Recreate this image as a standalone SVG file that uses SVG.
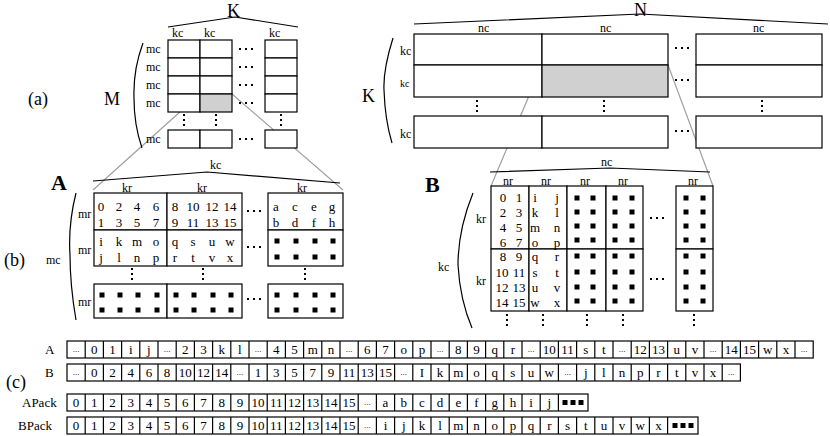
<svg xmlns="http://www.w3.org/2000/svg" width="830" height="436" viewBox="0 0 830 436" font-family="'Liberation Serif', 'DejaVu Serif', serif">
<style>
text{font-family:'Liberation Serif','DejaVu Serif',serif;fill:#000}
.s{font-size:12px}.m{font-size:13px;text-anchor:middle}.L{font-size:18px}.b{font-size:22px;font-weight:bold}
.c{fill:#fff;stroke:#000;stroke-width:1.2}
.g{fill:#d0d0d0;stroke:#000;stroke-width:1.2}
.ln{fill:none;stroke:#000;stroke-width:1.2}
.gl{fill:none;stroke:#a0a0a0;stroke-width:1.2}
.hd{stroke:#000;stroke-width:2;stroke-dasharray:2 4}
.vd{stroke:#000;stroke-width:2;stroke-dasharray:2 3}
.e{font-size:9px;text-anchor:middle}
</style>
<defs><rect id="q" x="-2.5" y="-2.5" width="5" height="5" fill="#000"/></defs>

<g id="connectors">
<path class="gl" d="M200 94L93 190M232 94L343 190M542 65L491 186M668 65L713 186"/>
</g>

<g id="panel-a-left">
<text x="28" y="105" class="L">(a)</text>
<text x="104" y="105" class="L">M</text>
<text x="227" y="17" class="L">K</text>
<path class="ln" d="M168 27L235 17L298 27M143 43Q133 70 134 98Q134 125 142 148"/>
<text x="172" y="37" class="s">kc</text><text x="204" y="37" class="s">kc</text><text x="269" y="37" class="s">kc</text>
<g class="s"><text x="146" y="53">mc</text><text x="146" y="71">mc</text><text x="146" y="89">mc</text><text x="146" y="107">mc</text><text x="146" y="143">mc</text></g>
<rect class="c" x="168" y="40" width="32" height="18"/><rect class="c" x="200" y="40" width="32" height="18"/><rect class="c" x="265" y="40" width="32" height="18"/>
<rect class="c" x="168" y="58" width="32" height="18"/><rect class="c" x="200" y="58" width="32" height="18"/><rect class="c" x="265" y="58" width="32" height="18"/>
<rect class="c" x="168" y="76" width="32" height="18"/><rect class="c" x="200" y="76" width="32" height="18"/><rect class="c" x="265" y="76" width="32" height="18"/>
<rect class="c" x="168" y="94" width="32" height="18"/><rect class="g" x="200" y="94" width="32" height="18"/><rect class="c" x="265" y="94" width="32" height="18"/>
<rect class="c" x="168" y="130" width="32" height="18"/><rect class="c" x="200" y="130" width="32" height="18"/><rect class="c" x="265" y="130" width="32" height="18"/>
<path class="hd" d="M239 49h18M239 67h18M239 85h18M239 103h18M239 139h18"/>
<path class="vd" d="M184 114v14M216 114v14M281 114v14"/>
</g>

<g id="panel-a-right">
<text x="362" y="102" class="L">K</text>
<text x="634" y="16" class="L">N</text>
<path class="ln" d="M414 24L640 14L828 24M393 38Q383 70 384 90Q385 120 392 143"/>
<text x="478" y="32" class="s">nc</text><text x="600" y="32" class="s">nc</text><text x="753" y="32" class="s">nc</text>
<text x="400" y="55" class="s">kc</text><text x="400" y="87" style="font-size:10px">kc</text><text x="400" y="138" class="s">kc</text>
<rect class="c" x="414" y="34" width="128" height="31"/><rect class="c" x="542" y="34" width="126" height="31"/><rect class="c" x="696" y="34" width="126" height="31"/>
<rect class="c" x="414" y="65" width="128" height="32"/><rect class="g" x="542" y="65" width="126" height="32"/><rect class="c" x="696" y="65" width="126" height="32"/>
<rect class="c" x="414" y="116" width="128" height="32"/><rect class="c" x="542" y="116" width="126" height="32"/><rect class="c" x="696" y="116" width="126" height="32"/>
<path class="hd" d="M675 48h18M675 80h18M675 131h18"/>
<path class="vd" d="M477 100v14M604 100v14M762 100v14"/>
</g>

<g id="matrix-A">
<text x="51" y="190" class="b">A</text>
<text x="4" y="266" class="L">(b)</text>
<text x="210" y="169" class="s">kc</text>
<path class="ln" d="M93 181L207 172L340 183M76 193Q68 225 70 255Q70 285 76 320"/>
<text x="122" y="192" class="s">kr</text><text x="197" y="192" class="s">kr</text><text x="297" y="192" class="s">kr</text>
<text x="46" y="264" class="s">mc</text>
<g class="s"><text x="78" y="218">mr</text><text x="78" y="254">mr</text><text x="78" y="306">mr</text></g>
<rect class="c" x="94" y="193" width="73" height="37"/><rect class="c" x="167" y="193" width="75" height="37"/><rect class="c" x="268" y="193" width="75" height="37"/>
<rect class="c" x="94" y="230" width="73" height="36"/><rect class="c" x="167" y="230" width="75" height="36"/><rect class="c" x="268" y="230" width="75" height="36"/>
<rect class="c" x="94" y="284" width="73" height="34"/><rect class="c" x="167" y="284" width="75" height="34"/><rect class="c" x="268" y="284" width="75" height="34"/>
<g class="m">
<text x="101" y="211">0</text><text x="119" y="211">2</text><text x="137" y="211">4</text><text x="156" y="211">6</text>
<text x="101" y="227">1</text><text x="119" y="227">3</text><text x="137" y="227">5</text><text x="156" y="227">7</text>
<text x="175" y="211">8</text><text x="193" y="211">10</text><text x="212" y="211">12</text><text x="230" y="211">14</text>
<text x="175" y="227">9</text><text x="193" y="227">11</text><text x="212" y="227">13</text><text x="230" y="227">15</text>
<text x="276" y="211">a</text><text x="295" y="211">c</text><text x="314" y="211">e</text><text x="332" y="211">g</text>
<text x="276" y="227">b</text><text x="295" y="227">d</text><text x="314" y="227">f</text><text x="332" y="227">h</text>
<text x="101" y="246">i</text><text x="119" y="246">k</text><text x="137" y="246">m</text><text x="156" y="246">o</text>
<text x="101" y="262">j</text><text x="119" y="262">l</text><text x="137" y="262">n</text><text x="156" y="262">p</text>
<text x="175" y="246">q</text><text x="193" y="246">s</text><text x="212" y="246">u</text><text x="230" y="246">w</text>
<text x="175" y="262">r</text><text x="193" y="262">t</text><text x="212" y="262">v</text><text x="230" y="262">x</text>
</g>
<g>
<use href="#q" x="277" y="241"/><use href="#q" x="296" y="241"/><use href="#q" x="315" y="241"/><use href="#q" x="333" y="241"/>
<use href="#q" x="277" y="257"/><use href="#q" x="296" y="257"/><use href="#q" x="315" y="257"/><use href="#q" x="333" y="257"/>
<use href="#q" x="102" y="295"/><use href="#q" x="120" y="295"/><use href="#q" x="138" y="295"/><use href="#q" x="157" y="295"/>
<use href="#q" x="102" y="310"/><use href="#q" x="120" y="310"/><use href="#q" x="138" y="310"/><use href="#q" x="157" y="310"/>
<use href="#q" x="176" y="295"/><use href="#q" x="194" y="295"/><use href="#q" x="213" y="295"/><use href="#q" x="231" y="295"/>
<use href="#q" x="176" y="310"/><use href="#q" x="194" y="310"/><use href="#q" x="213" y="310"/><use href="#q" x="231" y="310"/>
<use href="#q" x="277" y="295"/><use href="#q" x="296" y="295"/><use href="#q" x="315" y="295"/><use href="#q" x="333" y="295"/>
<use href="#q" x="277" y="310"/><use href="#q" x="296" y="310"/><use href="#q" x="315" y="310"/><use href="#q" x="333" y="310"/>
</g>
<path class="hd" d="M247 211h17M247 247h17M247 299h17"/>
<path class="vd" d="M132 268v14M203 268v14M305 268v14"/>
</g>

<g id="matrix-B">
<text x="425" y="192" class="b">B</text>
<text x="601" y="166" class="s">nc</text>
<path class="ln" d="M490 172L610 168L710 172M473 193Q458 230 458 265Q460 300 472 328"/>
<text x="503" y="185" class="s">nr</text><text x="541" y="185" class="s">nr</text><text x="580" y="185" class="s">nr</text><text x="618" y="185" class="s">nr</text><text x="688" y="185" class="s">nr</text>
<text x="476" y="223" class="s">kr</text><text x="476" y="285" class="s">kr</text><text x="438" y="271" class="s">kc</text>
<rect class="c" x="491" y="186" width="38" height="63"/><rect class="c" x="529" y="186" width="38" height="63"/><rect class="c" x="567" y="186" width="39" height="63"/><rect class="c" x="606" y="186" width="37" height="63"/><rect class="c" x="676" y="186" width="37" height="63"/>
<rect class="c" x="491" y="249" width="38" height="62"/><rect class="c" x="529" y="249" width="38" height="62"/><rect class="c" x="567" y="249" width="39" height="62"/><rect class="c" x="606" y="249" width="37" height="62"/><rect class="c" x="676" y="249" width="37" height="62"/>
<g class="m">
<text x="503" y="202">0</text><text x="519" y="202">1</text><text x="503" y="217">2</text><text x="519" y="217">3</text><text x="503" y="232">4</text><text x="519" y="232">5</text><text x="503" y="247">6</text><text x="519" y="247">7</text>
<text x="535" y="202">i</text><text x="557" y="202">j</text><text x="535" y="217">k</text><text x="557" y="217">l</text><text x="535" y="232">m</text><text x="557" y="232">n</text><text x="535" y="247">o</text><text x="557" y="247">p</text>
<text x="503" y="261">8</text><text x="519" y="261">9</text><text x="502" y="277">10</text><text x="519" y="277">11</text><text x="502" y="292">12</text><text x="519" y="292">13</text><text x="502" y="307">14</text><text x="519" y="307">15</text>
<text x="535" y="261">q</text><text x="557" y="261">r</text><text x="535" y="277">s</text><text x="557" y="277">t</text><text x="535" y="292">u</text><text x="557" y="292">v</text><text x="535" y="307">w</text><text x="557" y="307">x</text>
</g>
<g>
<use href="#q" x="577" y="198"/><use href="#q" x="593" y="198"/><use href="#q" x="615" y="198"/><use href="#q" x="632" y="198"/><use href="#q" x="686" y="198"/><use href="#q" x="703" y="198"/>
<use href="#q" x="577" y="212"/><use href="#q" x="593" y="212"/><use href="#q" x="615" y="212"/><use href="#q" x="632" y="212"/><use href="#q" x="686" y="212"/><use href="#q" x="703" y="212"/>
<use href="#q" x="577" y="226"/><use href="#q" x="593" y="226"/><use href="#q" x="615" y="226"/><use href="#q" x="632" y="226"/><use href="#q" x="686" y="226"/><use href="#q" x="703" y="226"/>
<use href="#q" x="577" y="240"/><use href="#q" x="593" y="240"/><use href="#q" x="615" y="240"/><use href="#q" x="632" y="240"/><use href="#q" x="686" y="240"/><use href="#q" x="703" y="240"/>
<use href="#q" x="577" y="256"/><use href="#q" x="593" y="256"/><use href="#q" x="615" y="256"/><use href="#q" x="632" y="256"/><use href="#q" x="686" y="256"/><use href="#q" x="703" y="256"/>
<use href="#q" x="577" y="272"/><use href="#q" x="593" y="272"/><use href="#q" x="615" y="272"/><use href="#q" x="632" y="272"/><use href="#q" x="686" y="272"/><use href="#q" x="703" y="272"/>
<use href="#q" x="577" y="287"/><use href="#q" x="593" y="287"/><use href="#q" x="615" y="287"/><use href="#q" x="632" y="287"/><use href="#q" x="686" y="287"/><use href="#q" x="703" y="287"/>
<use href="#q" x="577" y="301"/><use href="#q" x="593" y="301"/><use href="#q" x="615" y="301"/><use href="#q" x="632" y="301"/><use href="#q" x="686" y="301"/><use href="#q" x="703" y="301"/>
</g>
<path class="hd" d="M650 218h18M650 279h18"/>
<path class="vd" d="M507 314v15M543 314v15M587 314v15M623 314v15M694 314v15"/>
</g>

<g id="arrays">
<text x="6" y="388" class="L">(c)</text>
<g style="font-size:13px"><text x="45" y="354">A</text><text x="45" y="377">B</text><text x="22" y="407">APack</text><text x="18" y="430">BPack</text></g>
<rect class="c" x="67" y="341" width="746.2" height="17"/>
<path class="ln" d="M85.2 341v17M103.4 341v17M121.6 341v17M139.8 341v17M158 341v17M176.2 341v17M194.4 341v17M212.6 341v17M230.8 341v17M249 341v17M267.2 341v17M285.4 341v17M303.6 341v17M321.8 341v17M340 341v17M358.2 341v17M376.4 341v17M394.6 341v17M412.8 341v17M431 341v17M449.2 341v17M467.4 341v17M485.6 341v17M503.8 341v17M522 341v17M540.2 341v17M558.4 341v17M576.6 341v17M594.8 341v17M613 341v17M631.2 341v17M649.4 341v17M667.6 341v17M685.8 341v17M704 341v17M722.2 341v17M740.4 341v17M758.6 341v17M776.8 341v17M795 341v17"/>
<g class="m">
<text x="94.3" y="354">0</text><text x="112.5" y="354">1</text><text x="130.7" y="354">i</text><text x="148.9" y="354">j</text>
<text x="185.3" y="354">2</text><text x="203.5" y="354">3</text><text x="221.7" y="354">k</text><text x="239.9" y="354">l</text>
<text x="276.3" y="354">4</text><text x="294.5" y="354">5</text><text x="312.7" y="354">m</text><text x="330.9" y="354">n</text>
<text x="367.3" y="354">6</text><text x="385.5" y="354">7</text><text x="403.7" y="354">o</text><text x="421.9" y="354">p</text>
<text x="458.3" y="354">8</text><text x="476.5" y="354">9</text><text x="494.7" y="354">q</text><text x="512.9" y="354">r</text>
<text x="549.3" y="354">10</text><text x="567.5" y="354">11</text><text x="585.7" y="354">s</text><text x="603.9" y="354">t</text>
<text x="640.3" y="354">12</text><text x="658.5" y="354">13</text><text x="676.7" y="354">u</text><text x="694.9" y="354">v</text>
<text x="731.3" y="354">14</text><text x="749.5" y="354">15</text><text x="767.7" y="354">w</text><text x="785.9" y="354">x</text>
</g>
<g class="e"><text x="76.1" y="352">...</text><text x="167.1" y="352">...</text><text x="258.1" y="352">...</text><text x="349.1" y="352">...</text><text x="440.1" y="352">...</text><text x="531.1" y="352">...</text><text x="622.1" y="352">...</text><text x="713.1" y="352">...</text><text x="804.1" y="352">...</text></g>

<rect class="c" x="67" y="364" width="673.4" height="17"/>
<path class="ln" d="M85.2 364v17M103.4 364v17M121.6 364v17M139.8 364v17M158 364v17M176.2 364v17M194.4 364v17M212.6 364v17M230.8 364v17M249 364v17M267.2 364v17M285.4 364v17M303.6 364v17M321.8 364v17M340 364v17M358.2 364v17M376.4 364v17M394.6 364v17M412.8 364v17M431 364v17M449.2 364v17M467.4 364v17M485.6 364v17M503.8 364v17M522 364v17M540.2 364v17M558.4 364v17M576.6 364v17M594.8 364v17M613 364v17M631.2 364v17M649.4 364v17M667.6 364v17M685.8 364v17M704 364v17M722.2 364v17"/>
<g class="m">
<text x="94.3" y="377">0</text><text x="112.5" y="377">2</text><text x="130.7" y="377">4</text><text x="148.9" y="377">6</text><text x="167.1" y="377">8</text><text x="185.3" y="377">10</text><text x="203.5" y="377">12</text><text x="221.7" y="377">14</text>
<text x="258.1" y="377">1</text><text x="276.3" y="377">3</text><text x="294.5" y="377">5</text><text x="312.7" y="377">7</text><text x="330.9" y="377">9</text><text x="349.1" y="377">11</text><text x="367.3" y="377">13</text><text x="385.5" y="377">15</text>
<text x="421.9" y="377">I</text><text x="440.1" y="377">k</text><text x="458.3" y="377">m</text><text x="476.5" y="377">o</text><text x="494.7" y="377">q</text><text x="512.9" y="377">s</text><text x="531.1" y="377">u</text><text x="549.3" y="377">w</text>
<text x="585.7" y="377">j</text><text x="603.9" y="377">l</text><text x="622.1" y="377">n</text><text x="640.3" y="377">p</text><text x="658.5" y="377">r</text><text x="676.7" y="377">t</text><text x="694.9" y="377">v</text><text x="713.1" y="377">x</text>
</g>
<g class="e"><text x="76.1" y="375">...</text><text x="239.9" y="375">...</text><text x="403.7" y="375">...</text><text x="567.5" y="375">...</text><text x="731.3" y="375">...</text></g>

<rect class="c" x="67" y="394" width="521" height="17"/>
<path class="ln" d="M85.2 394v17M103.4 394v17M121.6 394v17M139.8 394v17M158 394v17M176.2 394v17M194.4 394v17M212.6 394v17M230.8 394v17M249 394v17M267.2 394v17M285.4 394v17M303.6 394v17M321.8 394v17M340 394v17M358.2 394v17M376.4 394v17M394.6 394v17M412.8 394v17M431 394v17M449.2 394v17M467.4 394v17M485.6 394v17M503.8 394v17M522 394v17M540.2 394v17M558.4 394v17"/>
<g class="m">
<text x="76.1" y="407">0</text><text x="94.3" y="407">1</text><text x="112.5" y="407">2</text><text x="130.7" y="407">3</text><text x="148.9" y="407">4</text><text x="167.1" y="407">5</text><text x="185.3" y="407">6</text><text x="203.5" y="407">7</text><text x="221.7" y="407">8</text><text x="239.9" y="407">9</text><text x="258.1" y="407">10</text><text x="276.3" y="407">11</text><text x="294.5" y="407">12</text><text x="312.7" y="407">13</text><text x="330.9" y="407">14</text><text x="349.1" y="407">15</text>
<text x="385.5" y="407">a</text><text x="403.7" y="407">b</text><text x="421.9" y="407">c</text><text x="440.1" y="407">d</text><text x="458.3" y="407">e</text><text x="476.5" y="407">f</text><text x="494.7" y="407">g</text><text x="512.9" y="407">h</text><text x="531.1" y="407">i</text><text x="549.3" y="407">j</text>
</g>
<text class="e" x="367.3" y="405">...</text>
<use href="#q" x="565" y="402.5"/><use href="#q" x="573" y="402.5"/><use href="#q" x="581" y="402.5"/>

<rect class="c" x="67" y="417" width="631" height="17"/>
<path class="ln" d="M85.2 417v17M103.4 417v17M121.6 417v17M139.8 417v17M158 417v17M176.2 417v17M194.4 417v17M212.6 417v17M230.8 417v17M249 417v17M267.2 417v17M285.4 417v17M303.6 417v17M321.8 417v17M340 417v17M358.2 417v17M376.4 417v17M394.6 417v17M412.8 417v17M431 417v17M449.2 417v17M467.4 417v17M485.6 417v17M503.8 417v17M522 417v17M540.2 417v17M558.4 417v17M576.6 417v17M594.8 417v17M613 417v17M631.2 417v17M649.4 417v17M667.6 417v17"/>
<g class="m">
<text x="76.1" y="430">0</text><text x="94.3" y="430">1</text><text x="112.5" y="430">2</text><text x="130.7" y="430">3</text><text x="148.9" y="430">4</text><text x="167.1" y="430">5</text><text x="185.3" y="430">6</text><text x="203.5" y="430">7</text><text x="221.7" y="430">8</text><text x="239.9" y="430">9</text><text x="258.1" y="430">10</text><text x="276.3" y="430">11</text><text x="294.5" y="430">12</text><text x="312.7" y="430">13</text><text x="330.9" y="430">14</text><text x="349.1" y="430">15</text>
<text x="385.5" y="430">i</text><text x="403.7" y="430">j</text><text x="421.9" y="430">k</text><text x="440.1" y="430">l</text><text x="458.3" y="430">m</text><text x="476.5" y="430">n</text><text x="494.7" y="430">o</text><text x="512.9" y="430">p</text><text x="531.1" y="430">q</text><text x="549.3" y="430">r</text><text x="567.5" y="430">s</text><text x="585.7" y="430">t</text><text x="603.9" y="430">u</text><text x="622.1" y="430">v</text><text x="640.3" y="430">w</text><text x="658.5" y="430">x</text>
</g>
<text class="e" x="367.3" y="428">...</text>
<use href="#q" x="675" y="425.5"/><use href="#q" x="683" y="425.5"/><use href="#q" x="691" y="425.5"/>
</g>
</svg>
